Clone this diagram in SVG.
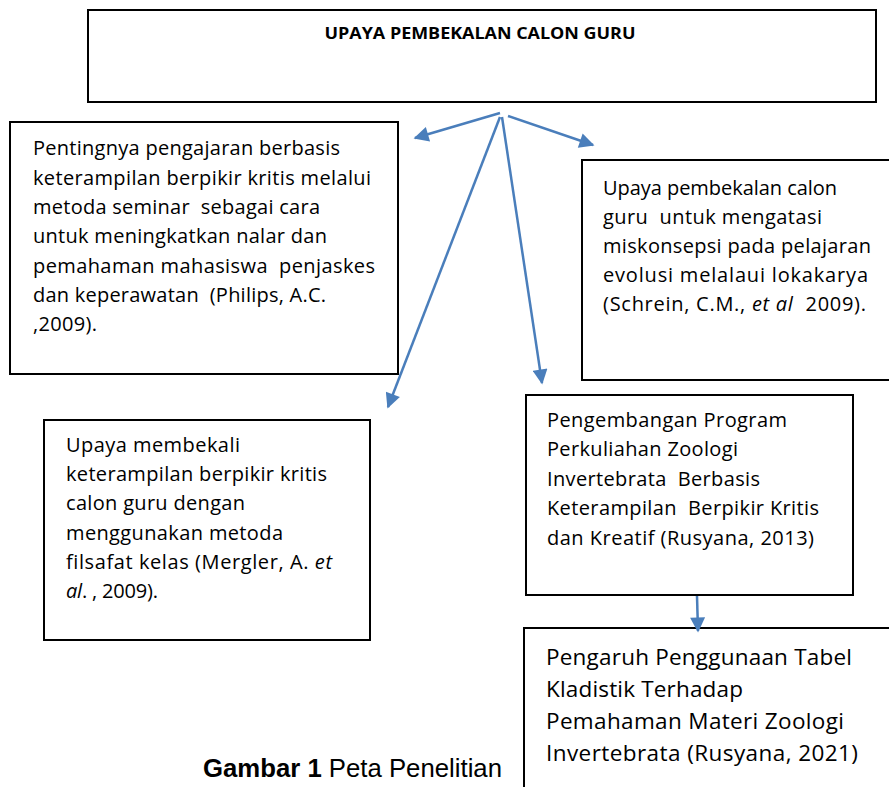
<svg xmlns="http://www.w3.org/2000/svg" width="889" height="787" viewBox="0 0 889 787">
<style>
.box{fill:#fff;stroke:#000;stroke-width:2}
.t{font-family:"Open Sans",Lato,"Liberation Sans",sans-serif;font-size:20px;fill:#000;white-space:pre;font-variant-ligatures:none}
.big{font-size:22.5px}
.title{font-family:"Open Sans","Liberation Sans",sans-serif;font-size:16px;font-weight:bold;fill:#000}
.cap{font-family:"Liberation Sans",Arial,sans-serif;font-size:26px;fill:#000}
.conn line{stroke:#4A7EBB;stroke-width:2.5;fill:none}
</style>
<defs>
<marker id="ah" viewBox="0 0 10 10" refX="9" refY="5" markerWidth="6.8" markerHeight="6" orient="auto" markerUnits="strokeWidth">
<path d="M0,0 L10,5 L0,10 z" fill="#4A7EBB"/>
</marker>
</defs>
<rect width="889" height="787" fill="#fff"/>
<g id="n-top">
<rect class="box" x="88" y="10" width="788" height="92"/>
<text class="title" x="480" y="39" text-anchor="middle" textLength="311" lengthAdjust="spacingAndGlyphs">UPAYA PEMBEKALAN CALON GURU</text>
</g>
<g id="n-philips">
<rect class="box" x="10" y="122" width="388" height="252"/>
<text class="t">
<tspan x="33" y="155" textLength="307">Pentingnya pengajaran berbasis</tspan>
<tspan x="33" y="185" textLength="338">keterampilan berpikir kritis melalui</tspan>
<tspan x="33" y="214" textLength="287">metoda seminar  sebagai cara</tspan>
<tspan x="33" y="243" textLength="294">untuk meningkatkan nalar dan</tspan>
<tspan x="33" y="273" textLength="342">pemahaman mahasiswa  penjaskes</tspan>
<tspan x="33" y="302" textLength="293">dan keperawatan  (Philips, A.C.</tspan>
<tspan x="33" y="331" textLength="64">,2009).</tspan>
</text>
</g>
<g id="n-schrein">
<rect class="box" x="582" y="160" width="320" height="220"/>
<text class="t">
<tspan x="603" y="195" textLength="234">Upaya pembekalan calon</tspan>
<tspan x="603" y="224" textLength="219">guru  untuk mengatasi</tspan>
<tspan x="603" y="253" textLength="268">miskonsepsi pada pelajaran</tspan>
<tspan x="603" y="282" textLength="265">evolusi melalaui lokakarya</tspan>
<tspan x="603" y="311" textLength="263">(Schrein, C.M., <tspan font-style="italic">et al</tspan>  2009).</tspan>
</text>
</g>
<g id="n-mergler">
<rect class="box" x="44" y="420" width="326" height="220"/>
<text class="t">
<tspan x="66" y="452" textLength="174">Upaya membekali</tspan>
<tspan x="66" y="481" textLength="261">keterampilan berpikir kritis</tspan>
<tspan x="66" y="510" textLength="179">calon guru dengan</tspan>
<tspan x="66" y="540" textLength="217">menggunakan metoda</tspan>
<tspan x="66" y="569" textLength="266">filsafat kelas (Mergler, A. <tspan font-style="italic">et</tspan></tspan>
<tspan x="66" y="598" textLength="92"><tspan font-style="italic">al</tspan>. , 2009).</tspan>
</text>
</g>
<g id="n-rusyana2013">
<rect class="box" x="526" y="395" width="327" height="200"/>
<text class="t">
<tspan x="547" y="427" textLength="240">Pengembangan Program</tspan>
<tspan x="547" y="456" textLength="191">Perkuliahan Zoologi</tspan>
<tspan x="547" y="486" textLength="213">Invertebrata  Berbasis</tspan>
<tspan x="547" y="515" textLength="272">Keterampilan  Berpikir Kritis</tspan>
<tspan x="547" y="545" textLength="267">dan Kreatif (Rusyana, 2013)</tspan>
</text>
</g>
<g id="n-rusyana2021">
<rect class="box" x="524" y="628" width="380" height="180"/>
<text class="t big">
<tspan x="546" y="665" textLength="306">Pengaruh Penggunaan Tabel</tspan>
<tspan x="546" y="697" textLength="197">Kladistik Terhadap</tspan>
<tspan x="546" y="729" textLength="298">Pemahaman Materi Zoologi</tspan>
<tspan x="546" y="761" textLength="312">Invertebrata (Rusyana, 2021)</tspan>
</text>
</g>
<g id="caption">
<text class="cap" x="203" y="777" textLength="299" lengthAdjust="spacingAndGlyphs"><tspan font-weight="bold">Gambar 1</tspan> Peta Penelitian</text>
</g>
<g id="connectors" class="conn">
<line x1="500" y1="113" x2="415" y2="138" marker-end="url(#ah)"/>
<line x1="508" y1="116" x2="593" y2="145" marker-end="url(#ah)"/>
<line x1="500" y1="117" x2="388" y2="407" marker-end="url(#ah)"/>
<line x1="502" y1="117" x2="542" y2="383" marker-end="url(#ah)"/>
<line x1="697" y1="596" x2="698" y2="631" marker-end="url(#ah)"/>
</g>
</svg>
